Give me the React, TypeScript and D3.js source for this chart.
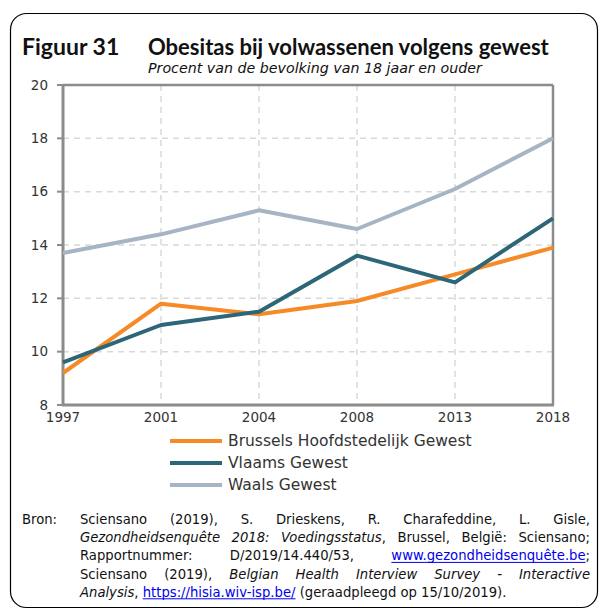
import React from "react";
import * as d3 from "d3";

const years = ["1997", "2001", "2004", "2008", "2013", "2018"];
const brussels = [9.2, 11.8, 11.4, 11.9, 12.9, 13.9];
const vlaams = [9.6, 11.0, 11.5, 13.6, 12.6, 15.0];
const waals = [13.7, 14.4, 15.3, 14.6, 16.1, 18.0];
const seriesNames = ["Brussels Hoofdstedelijk Gewest", "Vlaams Gewest", "Waals Gewest"];
const seriesColors = ["#F58A26", "#2C6678", "#A6B4C4"];
const yTicks = [8, 10, 12, 14, 16, 18, 20];

type Seg = { t: string; s?: "i" | "a" };
const sourceLines: Seg[][][] = [
  [[{ t: "Sciensano" }], [{ t: "(2019)," }], [{ t: "S." }], [{ t: "Drieskens," }], [{ t: "R." }], [{ t: "Charafeddine," }], [{ t: "L." }], [{ t: "Gisle," }]],
  [[{ t: "Gezondheidsenquête", s: "i" }], [{ t: "2018:", s: "i" }], [{ t: "Voedingsstatus", s: "i" }, { t: "," }], [{ t: "Brussel," }], [{ t: "België:" }], [{ t: "Sciensano;" }]],
  [[{ t: "Rapportnummer:" }], [{ t: "D/2019/14.440/53," }], [{ t: "www.gezondheidsenquête.be", s: "a" }, { t: ";" }]],
  [[{ t: "Sciensano" }], [{ t: "(2019)," }], [{ t: "Belgian", s: "i" }], [{ t: "Health", s: "i" }], [{ t: "Interview", s: "i" }], [{ t: "Survey", s: "i" }], [{ t: "-", s: "i" }], [{ t: "Interactive", s: "i" }]],
  [[{ t: "Analysis", s: "i" }, { t: "," }], [{ t: "https://hisia.wiv-isp.be/", s: "a" }], [{ t: "(geraadpleegd" }], [{ t: "op" }], [{ t: "15/10/2019)." }]],
];

const FONT = "'DejaVu Sans', sans-serif";
const TITLE_FONT = "Lato, 'DejaVu Sans', sans-serif";
const SRC_SIZE = 13.2;

let ctx: CanvasRenderingContext2D | null = null;
function measureFont(text: string, font: string): number {
  if (!ctx) ctx = document.createElement("canvas").getContext("2d");
  if (!ctx) return text.length * 7;
  ctx.font = font;
  return ctx.measureText(text).width;
}
function measure(text: string, italic: boolean): number {
  return measureFont(text, `${italic ? "italic " : ""}${SRC_SIZE}px ${FONT}`);
}
function fitSize(text: string, target: number, base: number, style: string, family: string): number {
  const w = measureFont(text, `${style} ${base}px ${family}`);
  if (!w) return base;
  return Math.min(base * 1.15, (base * target) / w);
}

const TITLE_LEFT = "Figuur 31";
const TITLE = "Obesitas bij volwassenen volgens gewest";
const SUBTITLE = "Procent van de bevolking van 18 jaar en ouder";

export default function App() {
  const W = 600, H = 610;
  const x = d3.scalePoint<string>().domain(years).range([63, 553]);
  const y = d3.scaleLinear().domain([8, 20]).range([405, 85]);
  const line = d3.line<number>().x((_, i) => x(years[i])!).y((d) => y(d));
  const data = [brussels, vlaams, waals];

  const titleSize = fitSize(TITLE, 402, 20, "bold", TITLE_FONT);
  const leftSize = fitSize(TITLE_LEFT, 99, 20, "bold", TITLE_FONT);
  const subSize = fitSize(SUBTITLE, 334, 13.5, "italic", FONT);

  const srcLeft = 80, srcRight = 590;
  const srcBase = 524, srcStep = 18.2;

  return (
    <svg width={W} height={H} style={{ position: "absolute", left: 0, top: 0 }} fontFamily={FONT}>
      <rect x={10.5} y={13.5} width={587} height={594} rx={16} fill="white" stroke="#000" strokeWidth={1.2} />
      <text x={22} y={55} fontSize={leftSize} fontFamily={TITLE_FONT} fontWeight="bold" fill="#111">{TITLE_LEFT}</text>
      <text x={148} y={55} fontSize={titleSize} fontFamily={TITLE_FONT} fontWeight="bold" fill="#111">{TITLE}</text>
      <text x={148} y={73} fontSize={subSize} fontStyle="italic" fill="#111">{SUBTITLE}</text>

      {/* grid */}
      {yTicks.slice(1, -1).map((t) => (
        <line key={"gy" + t} x1={63} x2={553} y1={y(t)} y2={y(t)} stroke="#D9D9D9" strokeWidth={1.5} strokeDasharray="6,5" />
      ))}
      {years.slice(1, -1).map((yr) => (
        <line key={"gx" + yr} x1={x(yr)} x2={x(yr)} y1={85} y2={405} stroke="#D9D9D9" strokeWidth={1.5} strokeDasharray="6,5" />
      ))}
      {/* frame */}
      <line x1={63} x2={553} y1={85} y2={85} stroke="#8C8C8C" strokeWidth={2.5} />
      <line x1={553} x2={553} y1={85} y2={405} stroke="#8C8C8C" strokeWidth={2.5} />
      <line x1={63} x2={63} y1={84} y2={406} stroke="#8C8C8C" strokeWidth={3} />
      <line x1={62} x2={554} y1={405} y2={405} stroke="#8C8C8C" strokeWidth={3} />
      {yTicks.map((t) => (
        <g key={"yt" + t}>
          <line x1={57} x2={63} y1={y(t)} y2={y(t)} stroke="#8C8C8C" strokeWidth={2} />
          <text x={48} y={y(t)} dy="0.35em" textAnchor="end" fontSize={13.5} fill="#333">{t}</text>
        </g>
      ))}
      {years.map((yr) => (
        <text key={"xl" + yr} x={x(yr)} y={422} textAnchor="middle" fontSize={13.5} fill="#333">{yr}</text>
      ))}

      {data.map((d, i) => (
        <path key={"s" + i} d={line(d)!} fill="none" stroke={seriesColors[i]} strokeWidth={4} strokeLinejoin="round" />
      ))}

      {seriesNames.map((n, i) => (
        <g key={"lg" + i}>
          <line x1={170} x2={222} y1={441 + i * 22} y2={441 + i * 22} stroke={seriesColors[i]} strokeWidth={4} />
          <text x={228} y={441 + i * 22} dy="0.35em" fontSize={15.5} fill="#333">{n}</text>
        </g>
      ))}

      <text x={22} y={srcBase} fontSize={SRC_SIZE} fill="#111">Bron:</text>
      {sourceLines.map((words, li) => {
        const widths = words.map((w) => w.reduce((a, s) => a + measure(s.t, s.s === "i"), 0));
        const total = widths.reduce((a, b) => a + b, 0);
        const last = li === sourceLines.length - 1;
        const gap = last ? measure(" ", false) : (srcRight - srcLeft - total) / (words.length - 1);
        let cx = srcLeft;
        const out: React.ReactNode[] = [];
        words.forEach((w, wi) => {
          let sx = cx;
          w.forEach((s, si) => {
            const sw = measure(s.t, s.s === "i");
            out.push(
              <text key={`${li}-${wi}-${si}`} x={sx} y={srcBase + li * srcStep} fontSize={SRC_SIZE}
                fontStyle={s.s === "i" ? "italic" : "normal"} fill={s.s === "a" ? "#0000EE" : "#111"}>{s.t}</text>
            );
            if (s.s === "a") {
              out.push(<line key={`u${li}-${wi}-${si}`} x1={sx} x2={sx + sw} y1={srcBase + li * srcStep + 2} y2={srcBase + li * srcStep + 2} stroke="#0000EE" strokeWidth={1} />);
            }
            sx += sw;
          });
          cx += widths[wi] + gap;
        });
        return <g key={"sl" + li}>{out}</g>;
      })}
    </svg>
  );
}
